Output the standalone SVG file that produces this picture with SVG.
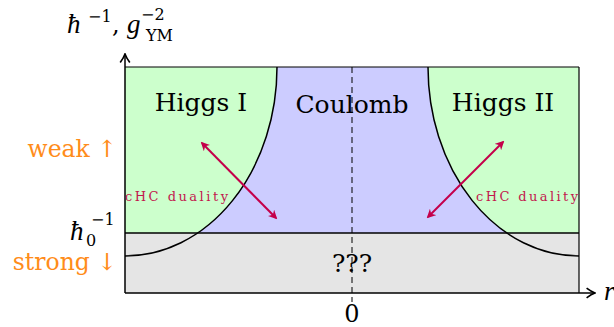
<svg xmlns="http://www.w3.org/2000/svg" width="614" height="327" viewBox="0 0 614 327" font-family="DejaVu Serif, Liberation Serif, serif">
<style>
.big{font-size:25px}
.mid{font-size:24px}
.sup{font-size:16px}
.ora{fill:#ff8c1a;font-size:23.5px}
.dual{fill:#c2184e;font-size:13px}
.edge{fill:none;stroke:#000;stroke-width:1.5}
.dual-arrow{stroke:#c4004a;stroke-width:2;fill:none}
</style>
<defs>
<clipPath id="upper"><rect x="125" y="67" width="454" height="166"/></clipPath>
<clipPath id="box"><rect x="125" y="67" width="454" height="226"/></clipPath>
<marker id="ah" viewBox="0 0 10 10" refX="8" refY="5" markerWidth="9" markerHeight="9" orient="auto-start-reverse" markerUnits="userSpaceOnUse">
<path d="M0,0 L10,5 L0,10 L3,5 Z" fill="#c4004a"/>
</marker>
<marker id="ax" viewBox="0 0 10 10" refX="9" refY="5" markerWidth="12" markerHeight="12" orient="auto" markerUnits="userSpaceOnUse">
<path d="M2,1 Q6,4 9,5 Q6,6 2,9" fill="none" stroke="#000" stroke-width="1.4"/>
</marker>
</defs>
<g id="regions">
<rect id="coulomb-region" x="125" y="67" width="454" height="166" fill="#ccccff"/>
<g clip-path="url(#upper)">
<path id="higgs1-region" d="M125,67 L277,67 A152,189 0 0 1 125,256 Z" fill="#ccffcc"/>
<path id="higgs2-region" d="M579,67 L428,67 A151,189 0 0 0 579,256 Z" fill="#ccffcc"/>
</g>
<rect id="strong-region" x="125" y="233" width="454" height="60" fill="#e5e5e5"/>
</g>
<g id="connectors">
<g clip-path="url(#box)">
<path class="edge" d="M277,67 A152,189 0 0 1 125,256"/>
<path class="edge" d="M428,67 A151,189 0 0 0 579,256"/>
</g>
<line class="edge" x1="125" y1="233" x2="579" y2="233"/>
<line x1="125" y1="67" x2="579" y2="67" stroke="#000" stroke-width="1.2"/>
<line x1="579" y1="67" x2="579" y2="293" stroke="#000" stroke-width="1.2"/>
<line x1="352" y1="67" x2="352" y2="302" stroke="#000" stroke-width="1" stroke-dasharray="6,4"/>
<line x1="125" y1="293" x2="595" y2="293" stroke="#000" stroke-width="1.5" marker-end="url(#ax)"/>
<line x1="125" y1="293" x2="125" y2="54" stroke="#000" stroke-width="1.5" marker-end="url(#ax)"/>
<line class="dual-arrow" x1="202" y1="143" x2="276" y2="218" marker-start="url(#ah)" marker-end="url(#ah)"/>
<line class="dual-arrow" x1="428" y1="217" x2="503" y2="142" marker-start="url(#ah)" marker-end="url(#ah)"/>
</g>
<g id="higgs1"><text class="big" x="201" y="111" text-anchor="middle">Higgs I</text></g>
<g id="coulomb"><text class="big" x="352" y="113" text-anchor="middle">Coulomb</text></g>
<g id="higgs2"><text class="big" x="503" y="111" text-anchor="middle">Higgs II</text></g>
<g id="unknown"><text class="big" x="352" y="272" text-anchor="middle">???</text></g>
<g id="labels">
<text class="dual" x="125" y="201" textLength="103" lengthAdjust="spacing">cHC duality</text>
<text class="dual" x="476" y="201" textLength="102" lengthAdjust="spacing">cHC duality</text>
<text class="ora" x="117" y="157" text-anchor="end">weak ↑</text>
<text class="ora" x="117" y="270" text-anchor="end">strong ↓</text>
<text font-family="Liberation Serif" font-style="italic" font-size="27" x="70" y="240">ħ</text>
<text class="sup" x="86" y="246" font-size="15">0</text>
<text class="sup" x="91" y="225">−1</text>
<text font-family="Liberation Serif" font-style="italic" font-size="27" x="67" y="33">ħ</text>
<text class="sup" x="88" y="22">−1</text>
<text class="mid" x="112" y="33">,</text>
<text font-family="Liberation Serif" font-style="italic" font-size="27" x="127" y="33">g</text>
<text class="sup" x="141" y="20">−2</text>
<text class="sup" x="146" y="41">YM</text>
<text class="mid" x="352" y="322" text-anchor="middle">0</text>
<text font-family="Liberation Serif" font-style="italic" font-size="27" x="604" y="300">r</text>
</g>
</svg>
